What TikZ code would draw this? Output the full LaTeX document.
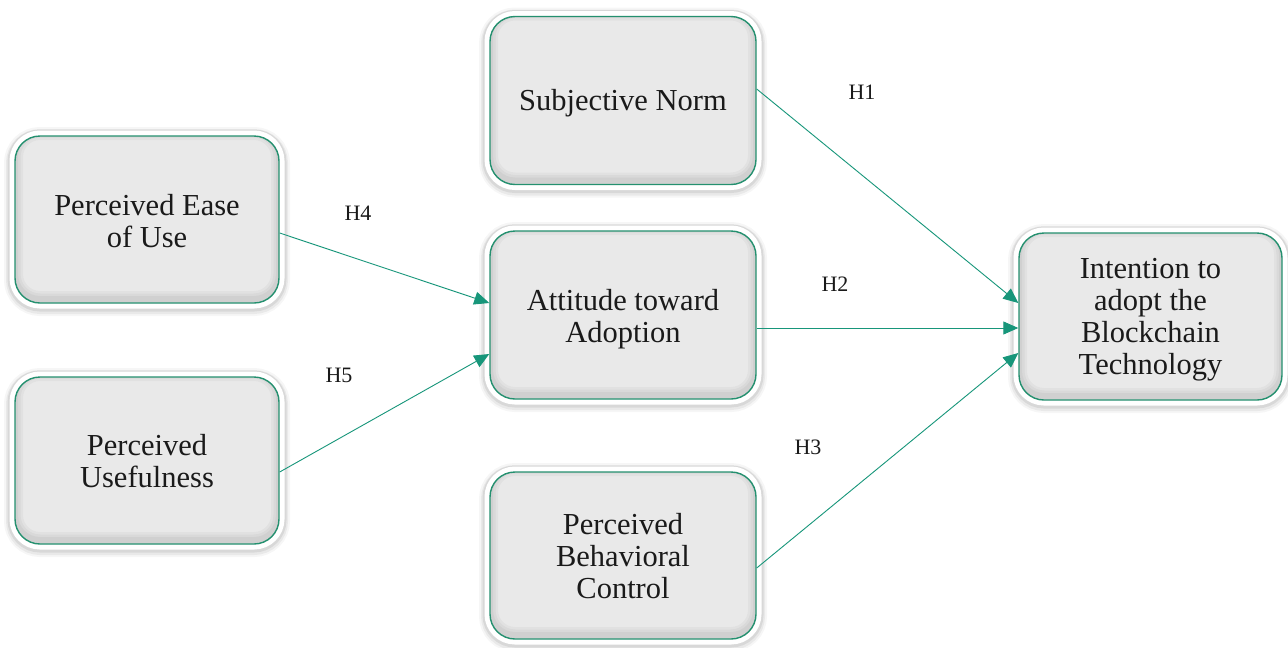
\documentclass[tikz,border=0pt]{standalone}
\usepackage{fontspec}
\setmainfont{Liberation Serif}
\usetikzlibrary{arrows.meta,calc}
\definecolor{edgegreen}{HTML}{24906F}
\definecolor{arrowgreen}{HTML}{17967A}
\definecolor{boxgray}{HTML}{E9E9E9}
\definecolor{txt}{HTML}{1A1A1A}
\tikzset{
  box/.style={
    preaction={draw=black, line width=22pt, opacity=0.035, transform canvas={yshift=-2pt}},
    preaction={draw=black, line width=18pt, opacity=0.05, transform canvas={yshift=-2pt}},
    preaction={draw=black, line width=15pt, opacity=0.07, transform canvas={yshift=-1pt}},
    preaction={draw=white, line width=11pt},
    rectangle, rounded corners=25pt, draw=edgegreen, line width=1.4pt,
    fill=boxgray,
    path picture={
      \foreach \w/\o in {16/0.03,11/0.035,6/0.04}{
        \draw[black, opacity=\o, line width=\w pt, rounded corners=25pt]
          ([yshift=4pt]path picture bounding box.south west) rectangle
          ([yshift=4pt]path picture bounding box.north east);}
    },
    minimum width=266pt, minimum height=168pt, inner sep=0pt},
  boxtext/.style={align=center, text=txt, yshift=-3pt,
    font=\fontsize{30.5}{32}\selectfont, inner sep=0pt},
  conn/.style={draw=arrowgreen, line width=0.9pt, -{Triangle[length=15pt,width=13pt]}},
  hlabel/.style={text=txt, font=\fontsize{22}{24}\selectfont, inner sep=0pt}
}
\begin{document}
\begin{tikzpicture}[x=1pt,y=-1pt]
\useasboundingbox[fill=white] (0,0) rectangle (1288,648);
\node[box, label={[boxtext]center:Subjective Norm}] (sn) at (623,100.5) {};
\node[box, minimum width=264pt, minimum height=167pt, label={[boxtext, yshift=1pt]center:Perceived Ease\\of Use}] (peu) at (147,219.5) {};
\node[box, label={[boxtext, yshift=-1pt]center:Attitude toward\\Adoption}] (att) at (623,315) {};
\node[box, minimum width=264pt, minimum height=167pt, label={[boxtext, yshift=2pt]center:Perceived\\Usefulness}] (pu) at (147,460.5) {};
\node[box, minimum height=167pt, label={[boxtext, yshift=2pt]center:Perceived\\Behavioral\\Control}] (pbc) at (623,555.5) {};
\node[box, minimum width=263pt, minimum height=167pt, label={[boxtext, yshift=-0.5pt]center:Intention to\\adopt the\\Blockchain\\Technology}] (int) at (1150.5,316.5) {};
\draw[conn] ([yshift=11.5pt]sn.east) -- ([yshift=13.5pt]int.west);
\draw[conn] ([yshift=-13pt]att.east) -- ([yshift=-11.5pt]int.west);
\draw[conn] ([yshift=-12.5pt]pbc.east) -- ([yshift=-36.5pt]int.west);
\draw[conn] ([yshift=-13.5pt]peu.east) -- ([yshift=12pt]att.west);
\draw[conn] ([yshift=-11.5pt]pu.east) -- ([yshift=-39pt]att.west);
\node[hlabel] (h1) at (862,92) {H1};
\node[hlabel] (h2) at (835,284) {H2};
\node[hlabel] (h3) at (808,447) {H3};
\node[hlabel] (h4) at (358,213) {H4};
\node[hlabel] (h5) at (339,375) {H5};
\end{tikzpicture}
\end{document}
